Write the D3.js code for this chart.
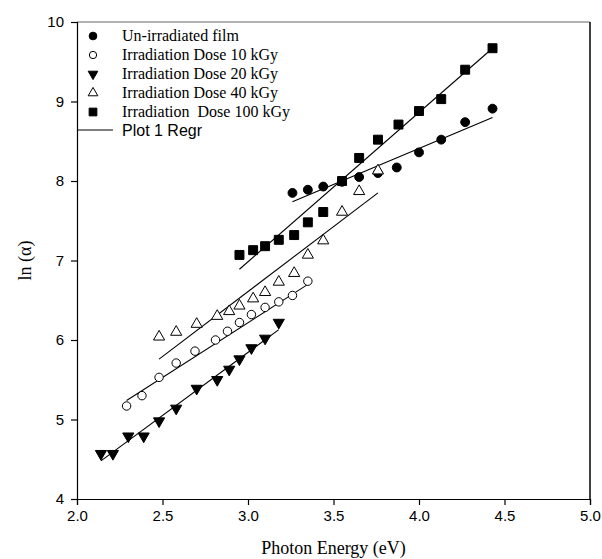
<!DOCTYPE html>
<html>
<head>
<meta charset="utf-8">
<script src="https://cdn.jsdelivr.net/npm/d3@7"></script>
<style>
  body { margin: 0; background: #fff; }
  svg { display: block; }
</style>
</head>
<body>
<svg id="chart"></svg>
<script>
/* chart size and plot box */
const width = 602, height = 559;
const box = { left: 77, right: 590, top: 22, bottom: 499 };

/* data */
const xUnirr = [3.26, 3.35, 3.44, 3.55, 3.65, 3.76, 3.87, 4.00, 4.13, 4.27, 4.43];
const yUnirr = [7.85, 7.89, 7.93, 7.99, 8.05, 8.10, 8.17, 8.36, 8.52, 8.74, 8.91];

const x10 = [2.29, 2.38, 2.48, 2.58, 2.69, 2.81, 2.88, 2.95, 3.02, 3.10, 3.18, 3.26, 3.35];
const y10 = [5.17, 5.30, 5.53, 5.71, 5.86, 6.00, 6.11, 6.22, 6.32, 6.41, 6.48, 6.56, 6.74];

const x20 = [2.14, 2.21, 2.30, 2.39, 2.48, 2.58, 2.70, 2.82, 2.89, 2.95, 3.02, 3.10, 3.18];
const y20 = [4.57, 4.57, 4.79, 4.79, 4.98, 5.14, 5.39, 5.50, 5.63, 5.76, 5.90, 6.02, 6.22];

const x40 = [2.48, 2.58, 2.70, 2.82, 2.89, 2.95, 3.03, 3.10, 3.18, 3.27, 3.35, 3.44, 3.55, 3.65, 3.76];
const y40 = [6.04, 6.10, 6.20, 6.30, 6.36, 6.43, 6.52, 6.60, 6.73, 6.84, 7.07, 7.25, 7.61, 7.87, 8.13];

const x100 = [2.95, 3.03, 3.10, 3.18, 3.27, 3.35, 3.44, 3.55, 3.65, 3.76, 3.88, 4.00, 4.13, 4.27, 4.43];
const y100 = [7.07, 7.13, 7.18, 7.26, 7.32, 7.48, 7.61, 8.00, 8.29, 8.52, 8.71, 8.88, 9.03, 9.40, 9.67];

/* regression line end points (x, y) */
const fitUnirr = [[3.26, 7.74], [4.43, 8.80]];
const fit10 = [[2.29, 5.24], [3.35, 6.70]];
const fit20 = [[2.14, 4.48], [3.18, 6.13]];
const fit40 = [[2.48, 5.76], [3.76, 7.85]];
const fit100 = [[2.95, 6.89], [4.43, 9.67]];

const xTicks = [2.0, 2.5, 3.0, 3.5, 4.0, 4.5, 5.0];
const yTicks = [4, 5, 6, 7, 8, 9, 10];

const legendLabels = ["Un-irradiated film", "Irradiation Dose 10 kGy", "Irradiation Dose 20 kGy",
                      "Irradiation Dose 40 kGy", "Irradiation  Dose 100 kGy"];

/* marker styles per series */
const series = [
  { xs: xUnirr, ys: yUnirr, fit: fitUnirr, type: d3.symbolCircle, size: 62, fill: "#000", rot: 0 },
  { xs: x10, ys: y10, fit: fit10, type: d3.symbolCircle, size: 56, fill: "#fff", rot: 0 },
  { xs: x20, ys: y20, fit: fit20, type: d3.symbolTriangle, size: 54, fill: "#000", rot: 180 },
  { xs: x40, ys: y40, fit: fit40, type: d3.symbolTriangle, size: 54, fill: "#fff", rot: 0 },
  { xs: x100, ys: y100, fit: fit100, type: d3.symbolSquare, size: 80, fill: "#000", rot: 0 }
];

const svg = d3.select("#chart").attr("width", width).attr("height", height);

const xScale = d3.scaleLinear().domain([2, 5]).range([box.left, box.right]);
const yScale = d3.scaleLinear().domain([4, 10]).range([box.bottom, box.top]);

/* frame: top and right edges */
svg.append("line").attr("x1", box.left).attr("x2", box.right).attr("y1", box.top).attr("y2", box.top)
  .attr("stroke", "#666").attr("stroke-width", 1.2);
svg.append("line").attr("x1", box.right).attr("x2", box.right).attr("y1", box.top).attr("y2", box.bottom)
  .attr("stroke", "#000").attr("stroke-width", 1.5);

/* axes */
const xAxis = svg.append("g").attr("transform", `translate(0,${box.bottom})`)
  .call(d3.axisBottom(xScale).tickValues(xTicks).tickFormat(d3.format(".1f")).tickSizeOuter(0).tickSize(6).tickPadding(5));
const yAxis = svg.append("g").attr("transform", `translate(${box.left},0)`)
  .call(d3.axisLeft(yScale).tickValues(yTicks).tickFormat(d3.format("d")).tickSizeOuter(0).tickSize(6).tickPadding(7));
[xAxis, yAxis].forEach(g => {
  g.selectAll("text").attr("font-family", "Liberation Sans, Arial, sans-serif").attr("font-size", 15).attr("fill", "#000");
  g.selectAll("line, path").attr("stroke", "#000").attr("stroke-width", 1.2);
});

/* regression lines */
const line = d3.line().x(d => xScale(d[0])).y(d => yScale(d[1]));
svg.append("g").selectAll("path").data(series).enter().append("path")
  .attr("d", d => line(d.fit)).attr("fill", "none").attr("stroke", "#000").attr("stroke-width", 1.1);

/* points */
series.forEach(s => {
  const pts = s.xs.map((x, i) => [x, s.ys[i]]);
  svg.append("g").selectAll("path").data(pts).enter().append("path")
    .attr("d", d3.symbol().type(s.type).size(s.size))
    .attr("transform", d => `translate(${xScale(d[0])},${yScale(d[1])}) rotate(${s.rot})`)
    .attr("fill", s.fill).attr("stroke", "#000").attr("stroke-width", 1);
});

/* legend */
const legend = svg.append("g");
legendLabels.forEach((label, i) => {
  const s = series[i], yy = 36 + i * 19;
  legend.append("path").attr("d", d3.symbol().type(s.type).size(s.size * 0.75)())
    .attr("transform", `translate(93,${yy}) rotate(${s.rot})`)
    .attr("fill", s.fill).attr("stroke", "#000").attr("stroke-width", 1);
  legend.append("text").attr("x", 122).attr("y", yy + 5).text(label)
    .attr("font-family", "Liberation Serif, Times New Roman, serif").attr("font-size", 16)
    .style("white-space", "pre");
});
legend.append("line").attr("x1", box.left).attr("x2", 113).attr("y1", 130).attr("y2", 130)
  .attr("stroke", "#000").attr("stroke-width", 1.1);
legend.append("text").attr("x", 122).attr("y", 136).text("Plot 1 Regr")
  .attr("font-family", "Liberation Sans, Arial, sans-serif").attr("font-size", 16);

/* axis titles */
svg.append("text").attr("x", (box.left + box.right) / 2).attr("y", 554).attr("text-anchor", "middle")
  .attr("font-family", "Liberation Serif, Times New Roman, serif").attr("font-size", 18).text("Photon Energy (eV)");
svg.append("text").attr("transform", `translate(31,${yScale(7.0)}) rotate(-90)`).attr("text-anchor", "middle")
  .attr("font-family", "Liberation Serif, Times New Roman, serif").attr("font-size", 18).text("ln (α)");
</script>
</body>
</html>
